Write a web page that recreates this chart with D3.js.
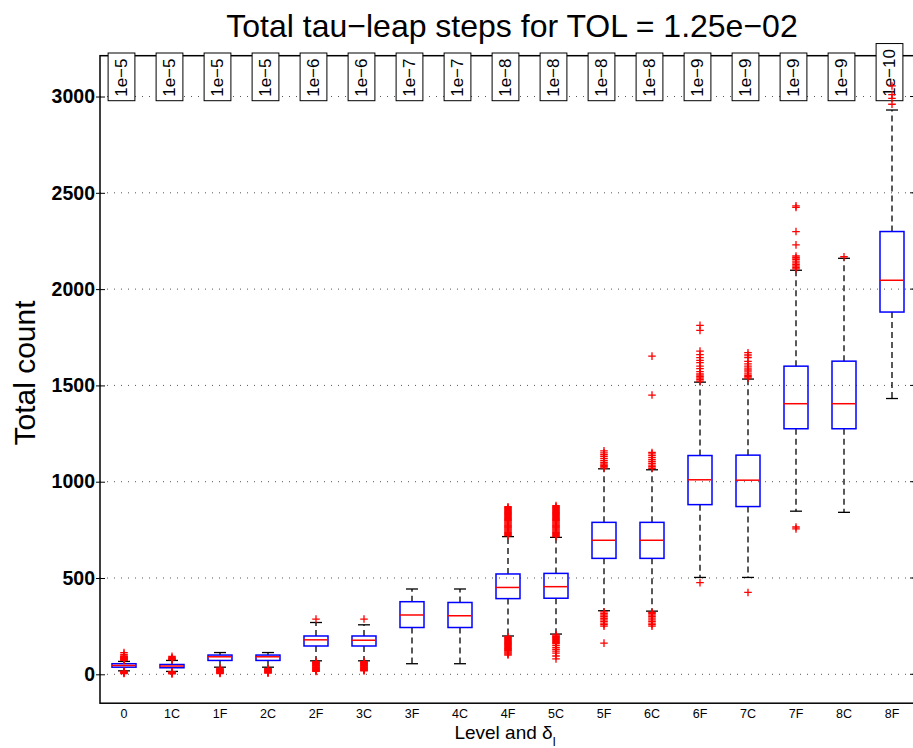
<!DOCTYPE html>
<html lang="en">
    <head>
        <script src="https://d3js.org/d3.v7.min.js"></script>
        <meta charset="UTF-8">
        <title>Total tau-leap steps</title>
        <style>
            body {
            margin: 0;
            background-color: #ffffff;
            }
            svg text {
            font-family: "Liberation Sans", Arial, Helvetica, sans-serif;
            }
        </style>
    </head>
    <body>
        <div id="chart"></div>

        <script>
            // levels on the x axis
            const levels = ["0", "1C", "1F", "2C", "2F", "3C", "3F", "4C", "4F", "5C", "5F", "6C", "6F", "7C", "7F", "8C", "8F"];
            // tolerance shown in the boxes along the top
            const tolLabels = ["1e−5", "1e−5", "1e−5", "1e−5", "1e−6", "1e−6", "1e−7", "1e−7", "1e−8", "1e−8", "1e−8", "1e−8", "1e−9", "1e−9", "1e−9", "1e−9", "1e−10"];

            // box plot statistics
            const lowerWhisker = [18, 15, 37, 37, 70, 70, 55, 55, 199, 209, 330, 328, 503, 503, 847, 841, 1432];
            const q1 = [37, 34, 72, 72, 147, 147, 243, 243, 393, 395, 602, 602, 881, 871, 1275, 1275, 1881];
            const median = [46, 43, 91, 91, 179, 177, 308, 304, 451, 455, 696, 696, 1010, 1008, 1405, 1405, 2046];
            const q3 = [55, 51, 100, 100, 199, 199, 377, 373, 521, 524, 789, 789, 1136, 1138, 1600, 1626, 2299];
            const upperWhisker = [67, 72, 113, 113, 269, 257, 443, 443, 715, 711, 1067, 1062, 1517, 1533, 2098, 2160, 2930];

            // outliers per level
            const outliers = [
                [72, 75, 78, 81, 84, 87, 90, 93, 96, 104, 113, 4, 7, 10, 13, 16],
                [76, 79, 82, 86, 93, 2, 5, 8, 11, 13],
                [4, 7, 10, 13, 16, 19, 22, 25, 28, 32],
                [6, 9, 12, 15, 18, 21, 24, 27, 30],
                [287, 15, 18, 21, 24, 27, 30, 33, 36, 39, 42, 45, 48, 51, 54, 57, 60, 63, 66],
                [287, 18, 21, 24, 27, 30, 33, 36, 39, 42, 45, 48, 51, 54, 57, 60, 63, 66],
                [],
                [],
                [720, 725, 730, 735, 740, 745, 750, 755, 760, 765, 770, 775, 780, 785, 790, 795,
                 800, 805, 810, 815, 820, 825, 830, 835, 840, 845, 850, 855, 860, 865, 870,
                 100, 105, 110, 115, 120, 125, 130, 135, 140, 145, 150, 155, 160, 165, 170,
                 175, 180, 185, 190, 195],
                [715, 720, 725, 730, 735, 740, 745, 750, 755, 760, 765, 770, 775, 780, 785, 790,
                 795, 800, 805, 810, 815, 820, 825, 830, 835, 840, 845, 850, 855, 860, 865, 870, 876,
                 80, 95, 110, 120, 130, 140, 150, 160, 165, 170, 175, 180, 185, 190, 195, 200, 205],
                [1072, 1078, 1085, 1092, 1100, 1110, 1120, 1130, 1140, 1150, 1160,
                 162, 250, 258, 266, 275, 283, 291, 300, 308, 316, 324],
                [1070, 1078, 1086, 1095, 1105, 1115, 1125, 1135, 1145, 1152, 1450, 1652,
                 250, 258, 266, 275, 283, 292, 300, 308, 316, 322],
                [1522, 1530, 1538, 1545, 1553, 1560, 1572, 1587, 1600, 1618, 1630, 1644, 1660, 1678, 1786, 1812, 476],
                [1538, 1545, 1552, 1560, 1570, 1580, 1590, 1600, 1612, 1625, 1645, 1658, 1670, 425],
                [2105, 2112, 2120, 2128, 2136, 2145, 2155, 2163, 2172, 2230, 2299, 2424, 2432, 755, 765],
                [2168],
                [2960, 2990, 3010, 3055]
            ];

            const yTicks = [0, 500, 1000, 1500, 2000, 2500, 3000];

            const width = 913;
            const height = 748;
            const plotLeft = 100, plotRight = 916, plotTop = 55.7, plotBottom = 703.2;

            const svg = d3.select("#chart")
                          .append("svg")
                          .attr("width", width)
                          .attr("height", height);

            const x = d3.scaleBand()
                        .domain(levels)
                        .range([plotLeft, plotRight])
                        .padding(0);

            const y = d3.scaleLinear()
                        .domain([-150, 3212])
                        .range([plotBottom, plotTop]);

            const cx = d => x(d) + x.bandwidth() / 2;
            const boxW = x.bandwidth() * 0.5;
            const capW = x.bandwidth() * 0.25;

            // dotted grid
            svg.append("g")
               .selectAll("line")
               .data(yTicks)
               .enter()
               .append("line")
               .attr("x1", plotLeft)
               .attr("x2", plotRight)
               .attr("y1", d => y(d))
               .attr("y2", d => y(d))
               .attr("stroke", "#555")
               .attr("stroke-width", 1)
               .attr("stroke-dasharray", "1,6");

            // y axis
            const yAxis = svg.append("g")
                             .attr("transform", `translate(${plotLeft},0)`)
                             .call(d3.axisLeft(y).tickValues(yTicks).tickFormat(d3.format("d")).tickSize(4).tickPadding(1));
            yAxis.select(".domain").remove();
            yAxis.selectAll("text")
                 .attr("font-size", "19.5px")
                 .attr("font-weight", "bold")
                 .attr("fill", "#000");
            yAxis.selectAll("line").attr("stroke", "#000").attr("x2", -4).attr("x1", 5);

            // right side ticks
            svg.append("g")
               .selectAll("line")
               .data(yTicks)
               .enter()
               .append("line")
               .attr("x1", plotRight - 6)
               .attr("x2", plotRight)
               .attr("y1", d => y(d))
               .attr("y2", d => y(d))
               .attr("stroke", "#000");

            // x axis labels
            const xAxis = svg.append("g")
                             .attr("transform", `translate(0,${plotBottom})`)
                             .call(d3.axisBottom(x).tickSize(0).tickPadding(6));
            xAxis.select(".domain").remove();
            xAxis.selectAll("text")
                 .attr("font-size", "12.5px")
                 .attr("fill", "#000");

            // frame
            svg.append("rect")
               .attr("x", plotLeft)
               .attr("y", plotTop)
               .attr("width", plotRight - plotLeft)
               .attr("height", plotBottom - plotTop)
               .attr("fill", "none")
               .attr("stroke", "#000")
               .attr("stroke-width", 1.5);

            // tolerance label boxes along the top
            const tags = svg.append("g")
                            .selectAll("g")
                            .data(levels)
                            .enter()
                            .append("g");
            tags.append("rect");
            const tagTexts = tags.append("text")
                                 .attr("transform", d => `translate(${cx(d) - 2.5 + 5.8},96.8) rotate(-90)`)
                                 .attr("font-size", "17px")
                                 .attr("fill", "#000")
                                 .text((d, i) => tolLabels[i]);
            tagTexts.each(function(d) {
                const len = this.getComputedTextLength();
                d3.select(this.parentNode).select("rect")
                  .attr("x", cx(d) - 2.5 - 13.4)
                  .attr("width", 26.8)
                  .attr("y", 96.8 - len - 5.5)
                  .attr("height", 100.7 - (96.8 - len - 5.5))
                  .attr("fill", "#fff")
                  .attr("stroke", "#000")
                  .attr("stroke-width", 1);
            });

            const boxes = svg.append("g")
                             .selectAll("g")
                             .data(levels)
                             .enter()
                             .append("g");

            // whiskers
            boxes.append("line")
                 .attr("x1", d => cx(d)).attr("x2", d => cx(d))
                 .attr("y1", (d, i) => y(q3[i])).attr("y2", (d, i) => y(upperWhisker[i]))
                 .attr("stroke", "#000").attr("stroke-width", 1.3)
                 .attr("stroke-dasharray", "6,4");
            boxes.append("line")
                 .attr("x1", d => cx(d)).attr("x2", d => cx(d))
                 .attr("y1", (d, i) => y(q1[i])).attr("y2", (d, i) => y(lowerWhisker[i]))
                 .attr("stroke", "#000").attr("stroke-width", 1.3)
                 .attr("stroke-dasharray", "6,4");

            // whisker caps
            boxes.append("line")
                 .attr("x1", d => cx(d) - capW / 2).attr("x2", d => cx(d) + capW / 2)
                 .attr("y1", (d, i) => y(upperWhisker[i])).attr("y2", (d, i) => y(upperWhisker[i]))
                 .attr("stroke", "#000").attr("stroke-width", 1.3);
            boxes.append("line")
                 .attr("x1", d => cx(d) - capW / 2).attr("x2", d => cx(d) + capW / 2)
                 .attr("y1", (d, i) => y(lowerWhisker[i])).attr("y2", (d, i) => y(lowerWhisker[i]))
                 .attr("stroke", "#000").attr("stroke-width", 1.3);

            // box
            boxes.append("rect")
                 .attr("x", d => cx(d) - boxW / 2)
                 .attr("width", boxW)
                 .attr("y", (d, i) => y(q3[i]))
                 .attr("height", (d, i) => y(q1[i]) - y(q3[i]))
                 .attr("fill", "none")
                 .attr("stroke", "#0000ff")
                 .attr("stroke-width", 1.5);

            // median
            boxes.append("line")
                 .attr("x1", d => cx(d) - boxW / 2).attr("x2", d => cx(d) + boxW / 2)
                 .attr("y1", (d, i) => y(median[i])).attr("y2", (d, i) => y(median[i]))
                 .attr("stroke", "#ff0000").attr("stroke-width", 1.5);

            // outliers as red plus signs
            boxes.each(function(d, i) {
                d3.select(this)
                  .selectAll("path.out")
                  .data(outliers[i])
                  .enter()
                  .append("path")
                  .attr("class", "out")
                  .attr("d", v => `M${cx(d) - 3.8},${y(v)}h7.6M${cx(d)},${y(v) - 3.8}v7.6`)
                  .attr("stroke", "#ff0000")
                  .attr("stroke-width", 1.3)
                  .attr("fill", "none");
            });

            // title
            svg.append("text")
               .attr("x", 512)
               .attr("y", 36.7)
               .attr("text-anchor", "middle")
               .attr("font-size", "32px")
               .attr("fill", "#000")
               .text("Total tau−leap steps for TOL = 1.25e−02");

            // y label
            svg.append("text")
               .attr("transform", "translate(35,373) rotate(-90)")
               .attr("text-anchor", "middle")
               .attr("font-size", "30px")
               .attr("fill", "#000")
               .text("Total count");

            // x label with subscript
            const xl = svg.append("text")
                          .attr("x", 505)
                          .attr("y", 738.5)
                          .attr("text-anchor", "middle")
                          .attr("font-size", "19px")
                          .attr("fill", "#000");
            xl.append("tspan").text("Level and δ");
            xl.append("tspan")
              .attr("font-size", "13px")
              .attr("dy", 7)
              .text("l");
        </script>
    </body>
</html>
